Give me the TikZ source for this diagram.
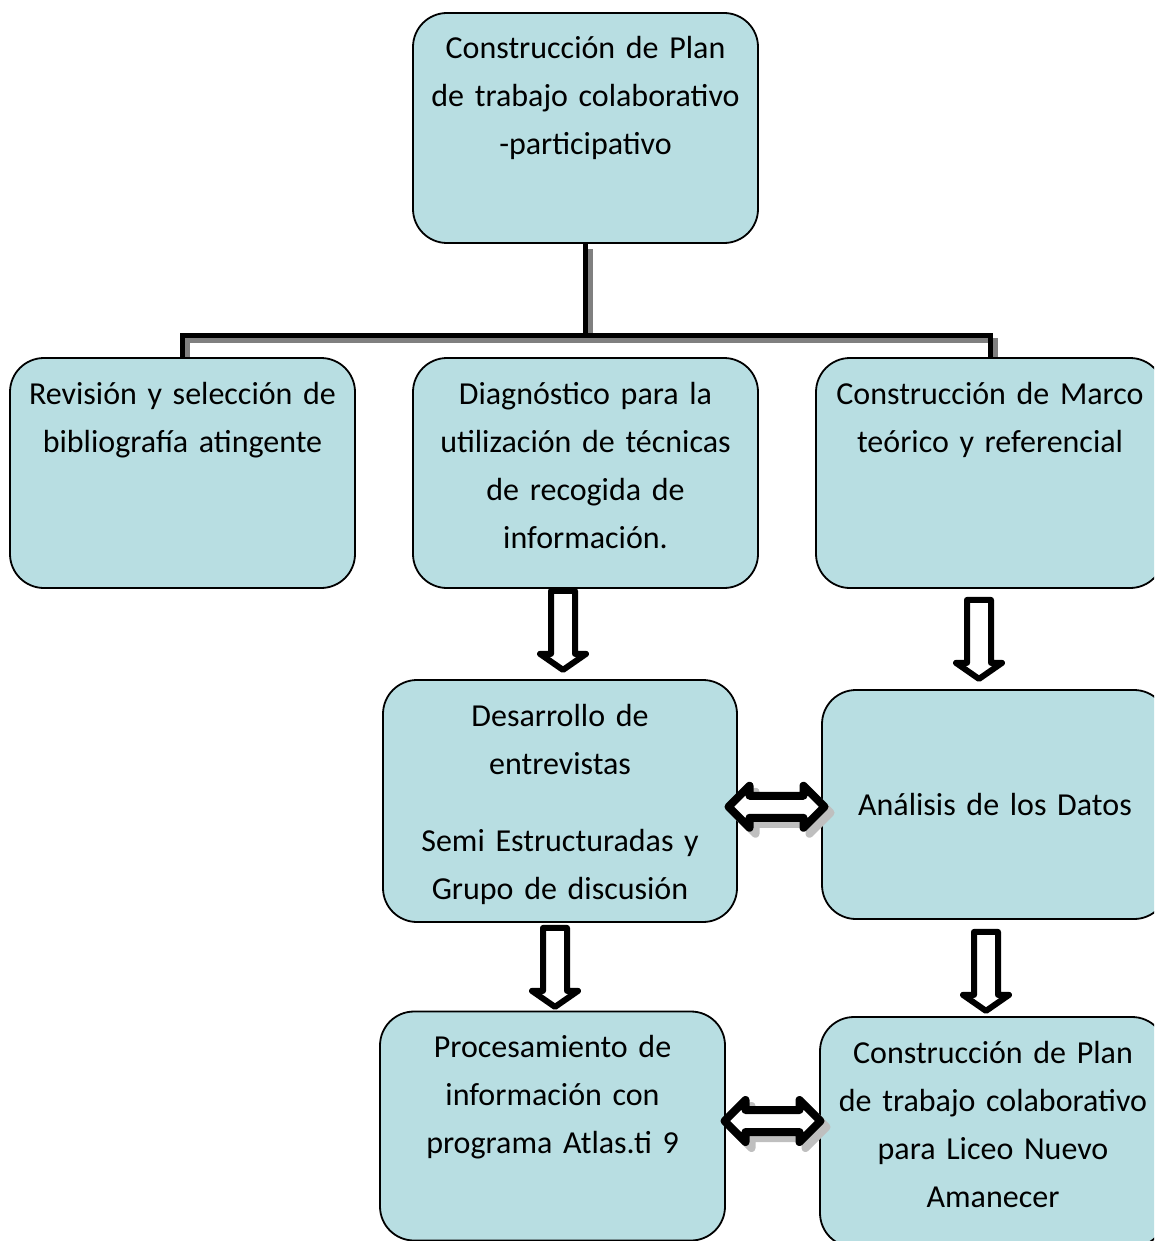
\documentclass[tikz,border=0pt]{standalone}
\usepackage{fontspec}
\setmainfont{Carlito}
\usetikzlibrary{
    positioning,
    calc,
    backgrounds
}
\definecolor{boxblue}{RGB}{184,222,226}
\newcommand{\stagefont}{\fontsize{32}{48}\selectfont}
\tikzset{
    % Boxes
    stage/.style={draw=black, fill=boxblue, line width=1.8pt, rounded corners=34pt,
        inner sep=0pt, align=center, text width=330pt, font=\stagefont},
    stage size/.style 2 args={minimum width=#1, minimum height=#2},
    top text/.style={text height=46pt, text depth=#1},
    %
    % Lines
    tree line/.style={line width=5pt, black, line join=miter},
    tree shadow/.style={line width=5pt, black!50, line join=miter,
        transform canvas={xshift=5pt, yshift=-5pt}},
    %
    % Block arrows
    block arrow/.style={draw=black, fill=white, line width=6pt, line join=round},
    arrow shadow/.style={draw=black!25, fill=black!25, line width=8pt, line join=round},
    down block/.pic={
        \draw[block arrow] (-12,0) -- (-12,63) -- (-23,63) -- (0,79) -- (23,63)
            -- (12,63) -- (12,0) -- cycle;
    },
    both block/.pic={
        \begin{scope}[shift={(6,6)}]
        \draw[arrow shadow] (-48,0) -- (-27,-21) -- (-27,-11) -- (27,-11) -- (27,-21)
            -- (48,0) -- (27,21) -- (27,11) -- (-27,11) -- (-27,21) -- cycle;
        \end{scope}
        \draw[block arrow, line width=8pt] (-48,0) -- (-27,-21) -- (-27,-11) -- (27,-11)
            -- (27,-21) -- (48,0) -- (27,21) -- (27,11) -- (-27,11) -- (-27,21) -- cycle;
    },
}

\begin{document}
\begin{tikzpicture}[x=1pt, y=-1pt]
    \useasboundingbox (0,0) rectangle (1154,1241);
    \clip (0,0) rectangle (1154,1241);

    % first level
    \node[stage, stage size={345pt}{230pt}, top text=184pt] (plan) at (585.5,128)
        {Construcción de Plan\\de trabajo colaborativo\\-participativo};

    % second level
    \node[stage, stage size={345pt}{230pt}, top text=184pt] (revision) at (182.5,473)
        {Revisión y selección de\\bibliografía atingente};
    \node[stage, stage size={345pt}{230pt}, top text=184pt] (diagnostico) at (585.5,473)
        {Diagnóstico para la\\utilización de técnicas\\de recogida de\\información.};
    \node[stage, stage size={348pt}{230pt}, top text=184pt] (marco) at (990,473)
        {Construcción de Marco\\teórico y referencial};

    % third level
    \node[stage, stage size={354pt}{242pt}, top text=196pt] (entrevistas) at (560,801)
        {Desarrollo de\\entrevistas\\[29pt]Semi Estructuradas y\\Grupo de discusión};
    \node[stage, stage size={346pt}{229pt}] (analisis) at (995,804.5)
        {Análisis de los Datos};

    % fourth level
    \node[stage, stage size={345pt}{229pt}, top text=183pt] (procesamiento) at (552.5,1126)
        {Procesamiento de\\información con\\programa Atlas.ti 9};
    \node[stage, stage size={346pt}{230pt}, top text=184pt] (planliceo) at (993,1132)
        {Construcción de Plan\\de trabajo colaborativo\\para Liceo Nuevo\\Amanecer};

    % tree
    \coordinate (split) at ($(plan.south)+(0,92)$);
    \begin{scope}[on background layer]
        \draw[tree shadow] (revision.north) |- (split) -| (marco.north) (split) -- (plan.south);
        \draw[tree line] (revision.north) |- (split) -| (marco.north) (split) -- (plan.south);
    \end{scope}

    % arrows
    \pic at ($(diagnostico.south)+(-22.5,2)$) {down block};
    \pic at ($(marco.south)+(-11,11)$) {down block};
    \pic at ($(entrevistas.south)+(-5,5)$) {down block};
    \pic at ($(analisis.south)+(-9,12)$) {down block};
    \pic at ($($(entrevistas.east)!.5!(analisis.west)$)+(-3,4)$) {both block};
    \pic at ($($(procesamiento.east)!.5!(planliceo.west)$)+(0,-8)$) {both block};
\end{tikzpicture}
\end{document}
